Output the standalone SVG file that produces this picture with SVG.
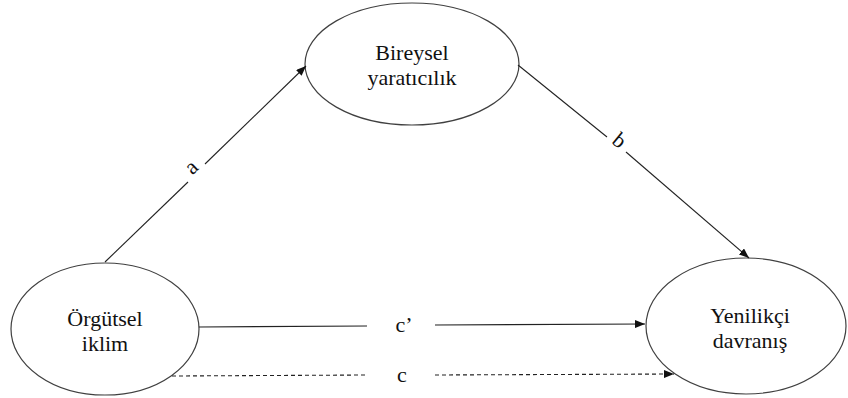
<svg xmlns="http://www.w3.org/2000/svg" width="848" height="398" viewBox="0 0 848 398">
<style>
.node ellipse{fill:#fff;stroke:#404040;stroke-width:1.2}
text{font-family:'Liberation Serif',serif;font-size:22px;fill:#111;text-anchor:middle}
.conn line{stroke:#222;stroke-width:1.1;fill:none}
.dash{stroke-dasharray:4,3}
</style>
<defs>
<marker id="arr" viewBox="0 0 10 8" refX="10" refY="4" markerWidth="10" markerHeight="8" markerUnits="userSpaceOnUse" orient="auto">
<path d="M0,0 L10,4 L0,8 z" fill="#111"/>
</marker>
</defs>
<rect width="848" height="398" fill="#fff"/>
<g id="node-orgutsel" class="node" font-family="Liberation Serif, serif">
<ellipse cx="105" cy="329" rx="94" ry="66"/>
<text x="105" y="326">Örgütsel</text>
<text x="105" y="351">iklim</text>
</g>
<g id="node-bireysel" class="node" font-family="Liberation Serif, serif">
<ellipse cx="412" cy="64" rx="107" ry="61"/>
<text x="412" y="60">Bireysel</text>
<text x="412" y="85">yaratıcılık</text>
</g>
<g id="node-yenilikci" class="node" font-family="Liberation Serif, serif">
<ellipse cx="746" cy="326" rx="100" ry="68"/>
<text x="750" y="323">Yenilikçi</text>
<text x="750" y="348">davranış</text>
</g>
<g id="connectors" class="conn">
<line x1="105" y1="262" x2="188" y2="182"/>
<line x1="205" y1="164" x2="306" y2="66" marker-end="url(#arr)"/>
<line x1="518" y1="65" x2="607" y2="137"/>
<line x1="626" y1="152" x2="749" y2="258" marker-end="url(#arr)"/>
<line x1="199" y1="327" x2="367" y2="326"/>
<line x1="435" y1="325" x2="645" y2="324" marker-end="url(#arr)"/>
<line class="dash" x1="172" y1="376" x2="368" y2="375"/>
<line class="dash" x1="435" y1="375" x2="674" y2="374" marker-end="url(#arr)"/>
</g>
<g id="labels" font-family="Liberation Serif, serif">
<text transform="translate(196,172) rotate(-44)">a</text>
<text transform="translate(615,146) rotate(39)">b</text>
<text x="404" y="332">c’</text>
<text x="402" y="382">c</text>
</g>
</svg>
